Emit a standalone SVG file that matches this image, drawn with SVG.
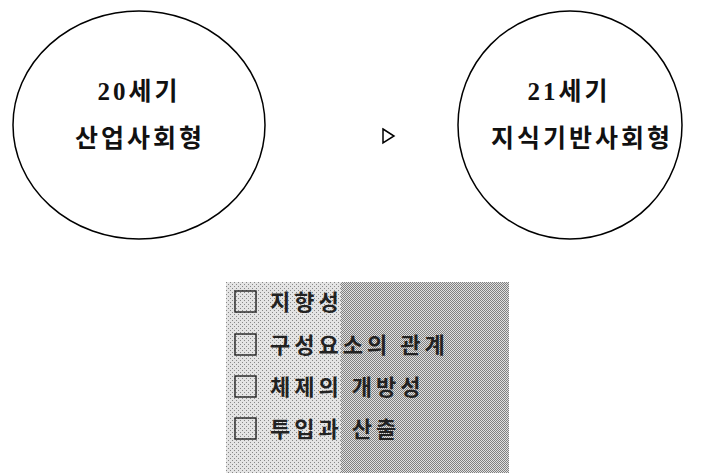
<svg xmlns="http://www.w3.org/2000/svg" width="709" height="473" viewBox="0 0 709 473">
<style>
.c{fill:none;stroke:#000;stroke-width:1.5}
.t{font-family:"Liberation Serif","Noto Sans CJK KR",serif;font-weight:bold;font-size:25px;fill:#111;text-anchor:middle;letter-spacing:3px}
.i{font-family:"Noto Sans CJK KR",sans-serif;font-weight:bold;font-size:22px;fill:#222;letter-spacing:4px}
.b{fill:none;stroke:#222;stroke-width:1.4}
</style>
<defs>
<pattern id="pl" width="4" height="4" patternUnits="userSpaceOnUse">
<rect width="4" height="4" fill="#e4e4e4"/>
<rect width="1" height="1" fill="#888"/><rect x="2" y="2" width="1" height="1" fill="#888"/>
</pattern>
<pattern id="pd" width="2" height="2" patternUnits="userSpaceOnUse">
<rect width="2" height="2" fill="#e0e0e0"/>
<rect width="1" height="1" fill="#808080"/><rect x="1" y="1" width="1" height="1" fill="#808080"/>
</pattern>
</defs>
<g id="node-20c">
<ellipse class="c" cx="139" cy="125" rx="126" ry="114"/>
<text class="t" x="139" y="100">20세기</text>
<text class="t" x="140" y="147">산업사회형</text>
</g>
<g id="connectors">
<path d="M383 129 L394 136 L383 143 Z" fill="none" stroke="#000" stroke-width="1.5"/>
</g>
<g id="node-21c">
<ellipse class="c" cx="570" cy="125" rx="112" ry="114"/>
<text class="t" x="569" y="100">21세기</text>
<text class="t" x="582" y="147">지식기반사회형</text>
</g>
<g id="list">
<rect x="226" y="282" width="115" height="191" fill="url(#pl)"/>
<rect x="341" y="282" width="168" height="191" fill="url(#pd)"/>
<rect class="b" x="235" y="291" width="21" height="21"/>
<text class="i" x="270" y="310">지향성</text>
<rect class="b" x="235" y="334" width="21" height="21"/>
<text class="i" x="270" y="353">구성요소의 관계</text>
<rect class="b" x="235" y="376" width="21" height="21"/>
<text class="i" x="270" y="395">체제의 개방성</text>
<rect class="b" x="235" y="418" width="21" height="21"/>
<text class="i" x="270" y="437">투입과 산출</text>
</g>
</svg>
